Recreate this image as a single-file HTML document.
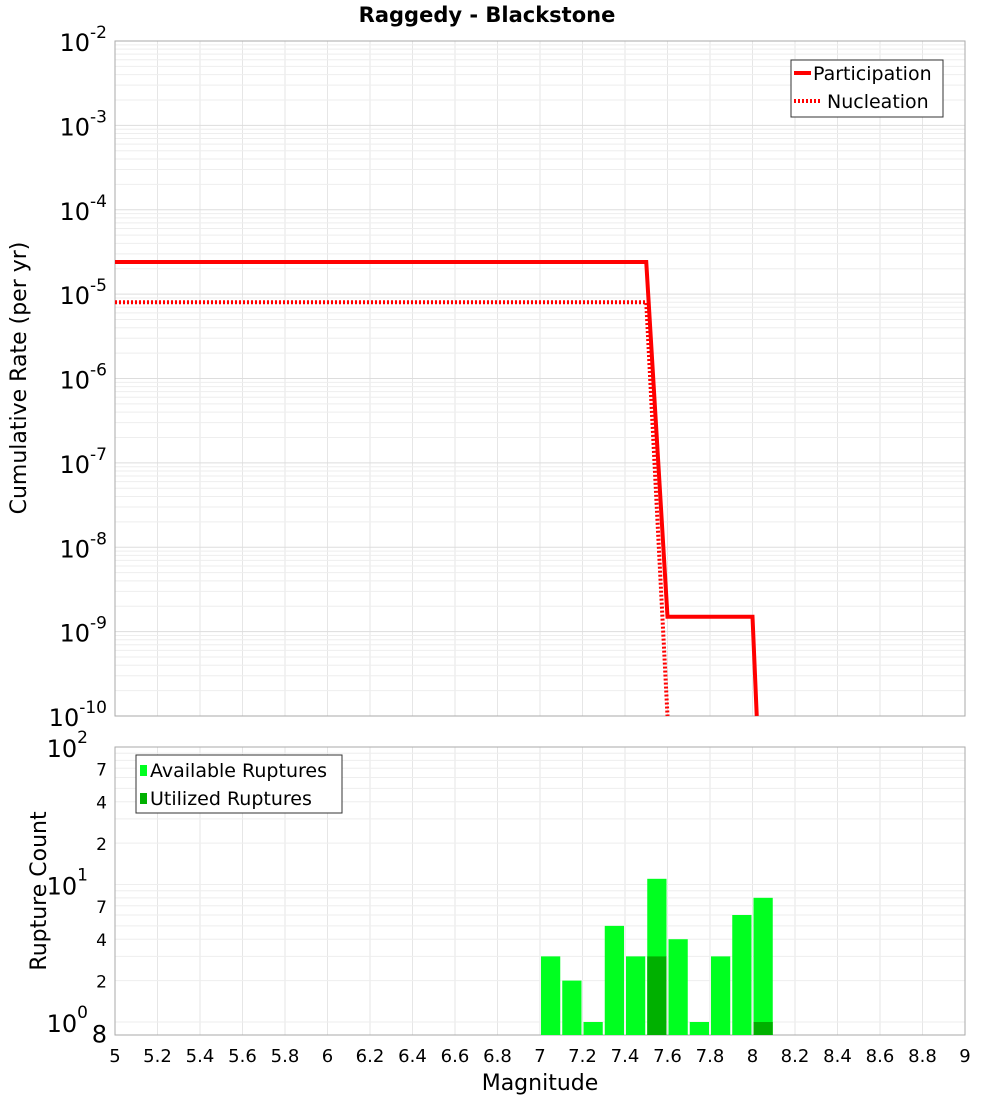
<!DOCTYPE html>
<html><head><meta charset="utf-8"><style>
body{margin:0;background:#fff;}
svg{font-family:"DejaVu Sans","Liberation Sans",sans-serif;}
</style></head><body>
<svg id="c" width="1000" height="1100" xmlns="http://www.w3.org/2000/svg">
<text x="487" y="22" text-anchor="middle" font-size="21" font-weight="bold">Raggedy - Blackstone</text>
<g id="grid"></g>
<rect x="115" y="41" width="850" height="675" fill="none" stroke="#aaa"/>
<rect x="115" y="747" width="850" height="288" fill="none" stroke="#aaa"/>
<g id="marks"></g>
<g id="labels"></g>
<text transform="translate(26,378) rotate(-90)" text-anchor="middle" font-size="22">Cumulative Rate (per yr)</text>
<text transform="translate(46,891) rotate(-90)" text-anchor="middle" font-size="22">Rupture Count</text>
<text x="540" y="1090" text-anchor="middle" font-size="22">Magnitude</text>
<g>
<rect x="791" y="60" width="152" height="57" fill="#fff" stroke="#333"/>
<line x1="794" y1="73" x2="811" y2="73" stroke="red" stroke-width="4"/>
<text x="813" y="80" font-size="19">Participation</text>
<line x1="794" y1="101" x2="822" y2="101" stroke="red" stroke-width="4" stroke-dasharray="2,2"/>
<text x="827" y="108" font-size="19">Nucleation</text>
</g>
<g>
<rect x="136" y="755" width="206" height="58" fill="#fff" stroke="#333"/>
<rect x="140" y="765" width="7" height="11" fill="#00ff20"/>
<text x="150" y="777" font-size="19">Available Ruptures</text>
<rect x="140" y="793" width="7" height="11" fill="#00b000"/>
<text x="150" y="805" font-size="19">Utilized Ruptures</text>
</g>
</svg>
<script>
const partMags=[5,7.5,7.6,8.0,8.02];
const partRates=[2.4e-5,2.4e-5,1.5e-9,1.5e-9,1e-10];
const nuclMags=[5,7.5,7.6];
const nuclRates=[8e-6,8e-6,1e-10];
const binCenters=[7.05,7.15,7.25,7.35,7.45,7.55,7.65,7.75,7.85,7.95,8.05];
const availCounts=[3,2,1,5,3,11,4,1,3,6,8];
const utilCounts=[0,0,0,0,0,3,0,0,0,0,1];
const xTicks=[5,5.2,5.4,5.6,5.8,6,6.2,6.4,6.6,6.8,7,7.2,7.4,7.6,7.8,8,8.2,8.4,8.6,8.8,9];
const topExps=[-2,-3,-4,-5,-6,-7,-8,-9,-10];
const NS="http://www.w3.org/2000/svg";
const X=m=>115+(m-5)*212.5;
const YT=v=>41+(-2-Math.log10(v))*84.375;
const YB=v=>1022-Math.log10(v)*137.5;
function mk(t,a,p){const e=document.createElementNS(NS,t);for(const k in a)e.setAttribute(k,a[k]);document.getElementById(p).appendChild(e);return e;}
// grid
for(const t of xTicks){
 const g1=mk('line',{x1:X(t),x2:X(t),y1:41,y2:716,stroke:'#e6e6e6'},'grid');
 
 
 const g2=mk('line',{x1:X(t),x2:X(t),y1:747,y2:1035,stroke:'#e6e6e6'},'grid');
 
 
 const l=mk('text',{x:X(t),y:1062,'text-anchor':'middle','font-size':18},'labels');
 
 
 l.textContent=t;
}
for(const e of topExps){
 if(e>-10){for(let k=1;k<10;k++){const y=YT(k*Math.pow(10,e-1));
  const g=mk('line',{x1:115,x2:965,y1:y,y2:y,stroke:k==1?'#ddd':'#eee'},'grid');
  
  }}
 const t=mk('text',{x:107,y:YT(Math.pow(10,e))+10,'text-anchor':'end','font-size':24},'labels');
 
 
 t.innerHTML='10<tspan dy="-13" font-size="17">'+e+'</tspan>';
}
for(let d=0;d<2;d++)for(let k=1;k<10;k++){const y=YB(k*Math.pow(10,d));
 const g=mk('line',{x1:115,x2:965,y1:y,y2:y,stroke:'#eee'},'grid');
 
 }
[[100,'10','2'],[10,'10','1'],[1,'10','0']].forEach(([v,b,s])=>{
 const t=mk('text',{x:88,y:YB(v)+10,'text-anchor':'end','font-size':24},'labels');
 
 
 t.innerHTML=b+'<tspan dy="-14" font-size="17">'+s+'</tspan>';
});
[[7,'7'],[4,'4'],[2,'2'],[70,'7'],[40,'4'],[20,'2'],[0.8,'8']].forEach(([v,s])=>{
 const t=mk('text',{x:107,y:YB(v)+7,'text-anchor':'end','font-size':v==0.8?24:17},'labels');
 
 
 t.textContent=s;
});
// bars
binCenters.forEach((c,i)=>{
 const y=YB(availCounts[i]);
 const b=mk('rect',{x:X(c-0.05)+1,y:y,width:212.5*0.1-2,height:1035-y,fill:'#00ff20'},'marks');
 
 
 if(utilCounts[i]>0){const yu=YB(utilCounts[i]);
  const u=mk('rect',{x:X(c-0.05)+1,y:yu,width:212.5*0.1-2,height:1035-yu,fill:'#00b000'},'marks');
  
  }
});
const pts=(ms,rs)=>ms.map((m,i)=>X(m)+','+Math.min(716,YT(rs[i]))).join(' ');
const p=mk('polyline',{points:pts(partMags,partRates),fill:'none',stroke:'red','stroke-width':4},'marks');


const n=mk('polyline',{points:pts(nuclMags,nuclRates),fill:'none',stroke:'red','stroke-width':4,'stroke-dasharray':'2,2'},'marks');


</script>
</body></html>
